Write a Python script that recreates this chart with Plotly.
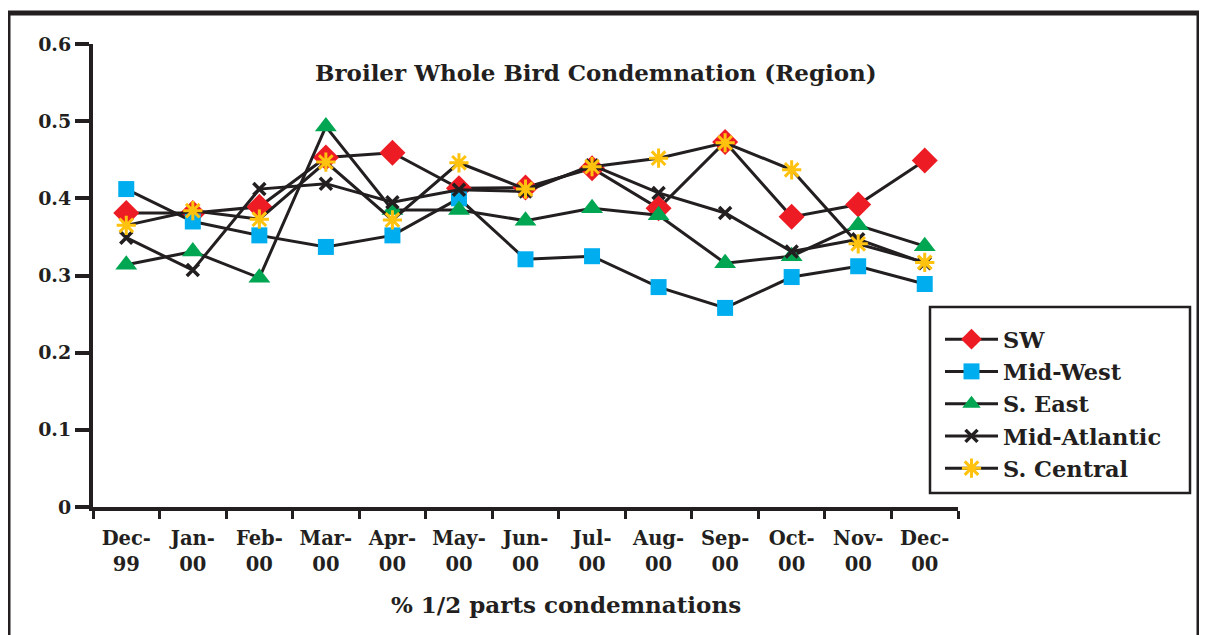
import plotly.graph_objects as go

months = ["Dec-99", "Jan-00", "Feb-00", "Mar-00", "Apr-00", "May-00", "Jun-00",
          "Jul-00", "Aug-00", "Sep-00", "Oct-00", "Nov-00", "Dec-00"]
month_labels = ["Dec-<br>99", "Jan-<br>00", "Feb-<br>00", "Mar-<br>00", "Apr-<br>00",
                "May-<br>00", "Jun-<br>00", "Jul-<br>00", "Aug-<br>00", "Sep-<br>00",
                "Oct-<br>00", "Nov-<br>00", "Dec-<br>00"]

sw = [0.381, 0.381, 0.389, 0.453, 0.459, 0.413, 0.414, 0.439, 0.387, 0.473, 0.376, 0.392, 0.449]
mid_west = [0.412, 0.370, 0.352, 0.337, 0.352, 0.400, 0.321, 0.325, 0.285, 0.258, 0.298, 0.312, 0.289]
s_east = [0.314, 0.331, 0.297, 0.493, 0.385, 0.385, 0.371, 0.387, 0.378, 0.316, 0.325, 0.365, 0.338]
mid_atlantic = [0.349, 0.307, 0.412, 0.419, 0.395, 0.411, 0.409, 0.443, 0.407, 0.381, 0.331, 0.347, 0.316]
s_central = [0.365, 0.384, 0.373, 0.447, 0.372, 0.446, 0.412, 0.441, 0.452, 0.472, 0.437, 0.341, 0.317]

y_ticks = [0, 0.1, 0.2, 0.3, 0.4, 0.5, 0.6]
y_tick_labels = ["0", "0.1", "0.2", "0.3", "0.4", "0.5", "0.6"]

INK = "#231F20"
FONT = "DejaVu Serif"

series = [
    ("SW", sw, dict(symbol="diamond", size=20, color="#ED1C24")),
    ("Mid-West", mid_west, dict(symbol="square", size=16, color="#00AEEF")),
    ("S. East", s_east, dict(symbol="triangle-up", size=19, color="#00A651")),
    ("Mid-Atlantic", mid_atlantic, dict(symbol="x-thin-open", size=12, color=INK,
                                        line=dict(width=3.5, color=INK))),
    ("S. Central", s_central, dict(symbol="asterisk-open", size=16, color="#FFC20E",
                                   line=dict(width=3, color="#FFC20E"))),
]

fig = go.Figure()
for name, vals, mk in series:
    fig.add_trace(go.Scatter(
        x=months, y=vals, name=name, mode="lines+markers",
        line=dict(color=INK, width=3),
        marker=mk,
    ))

# page is offset by the 8px body margin
OFF = 8
W, H = 1207 - OFF, 635 - OFF
PL, PR, PT, PB = 93, 958, 44, 507   # plot area in page pixels
L, T = PL - OFF, PT - OFF
R, B = W - (PR - OFF), H - (PB - OFF)
pw, ph = PR - PL, PB - PT

def px(x):
    return (x - PL) / pw

def py(y):
    return (PB - y) / ph

fig.update_layout(
    width=W, height=H, autosize=False,
    margin=dict(l=L, r=R, t=T, b=B, pad=0),
    paper_bgcolor="white", plot_bgcolor="white",
    font=dict(family=FONT, color=INK, size=20, weight="bold"),
    showlegend=True,
    legend=dict(
        x=px(940), y=py(318), xanchor="left", yanchor="top",
        bgcolor="rgba(0,0,0,0)", borderwidth=0,
        font=dict(family=FONT, size=22.5, color=INK, weight="bold"),
        tracegroupgap=0, itemwidth=53,
    ),
    xaxis=dict(
        type="category", tickmode="array", tickvals=months, ticktext=month_labels,
        tickson="boundaries", ticks="outside", ticklen=8, tickwidth=3, tickcolor=INK,
        showline=True, linewidth=4, linecolor=INK, showgrid=False, zeroline=False,
        tickfont=dict(family=FONT, size=19.5, color=INK, weight="bold"),
        ticklabelstandoff=11,
        range=[-0.5, 12.5],
    ),
    yaxis=dict(
        range=[0, 0.6], tickmode="array", tickvals=y_ticks, ticktext=y_tick_labels,
        ticks="outside", ticklen=14, tickwidth=4, tickcolor=INK,
        showline=True, linewidth=4, linecolor=INK, showgrid=False, zeroline=False,
        tickfont=dict(family=FONT, size=19, color=INK, weight="bold"),
    ),
)

fig.add_annotation(
    text="Broiler Whole Bird Condemnation (Region)", xref="paper", yref="paper",
    x=px(596), y=py(72), xanchor="center", yanchor="middle", showarrow=False,
    font=dict(family=FONT, size=23, color=INK, weight="bold"),
)
fig.add_annotation(
    text="% 1/2 parts condemnations", xref="paper", yref="paper",
    x=px(566), y=py(604), xanchor="center", yanchor="middle", showarrow=False,
    font=dict(family=FONT, size=23, color=INK, weight="bold"),
)

# outer frame
fig.add_shape(
    type="rect", xref="paper", yref="paper",
    x0=px(8), x1=px(1199), y0=py(700), y1=py(13),
    line=dict(color=INK, width=5), fillcolor="rgba(0,0,0,0)", layer="below",
)
# legend box
fig.add_shape(
    type="rect", xref="paper", yref="paper",
    x0=px(930), x1=px(1190), y0=py(493), y1=py(307),
    line=dict(color=INK, width=2.5), fillcolor="white", layer="above",
)

fig.write_html("out.html")
